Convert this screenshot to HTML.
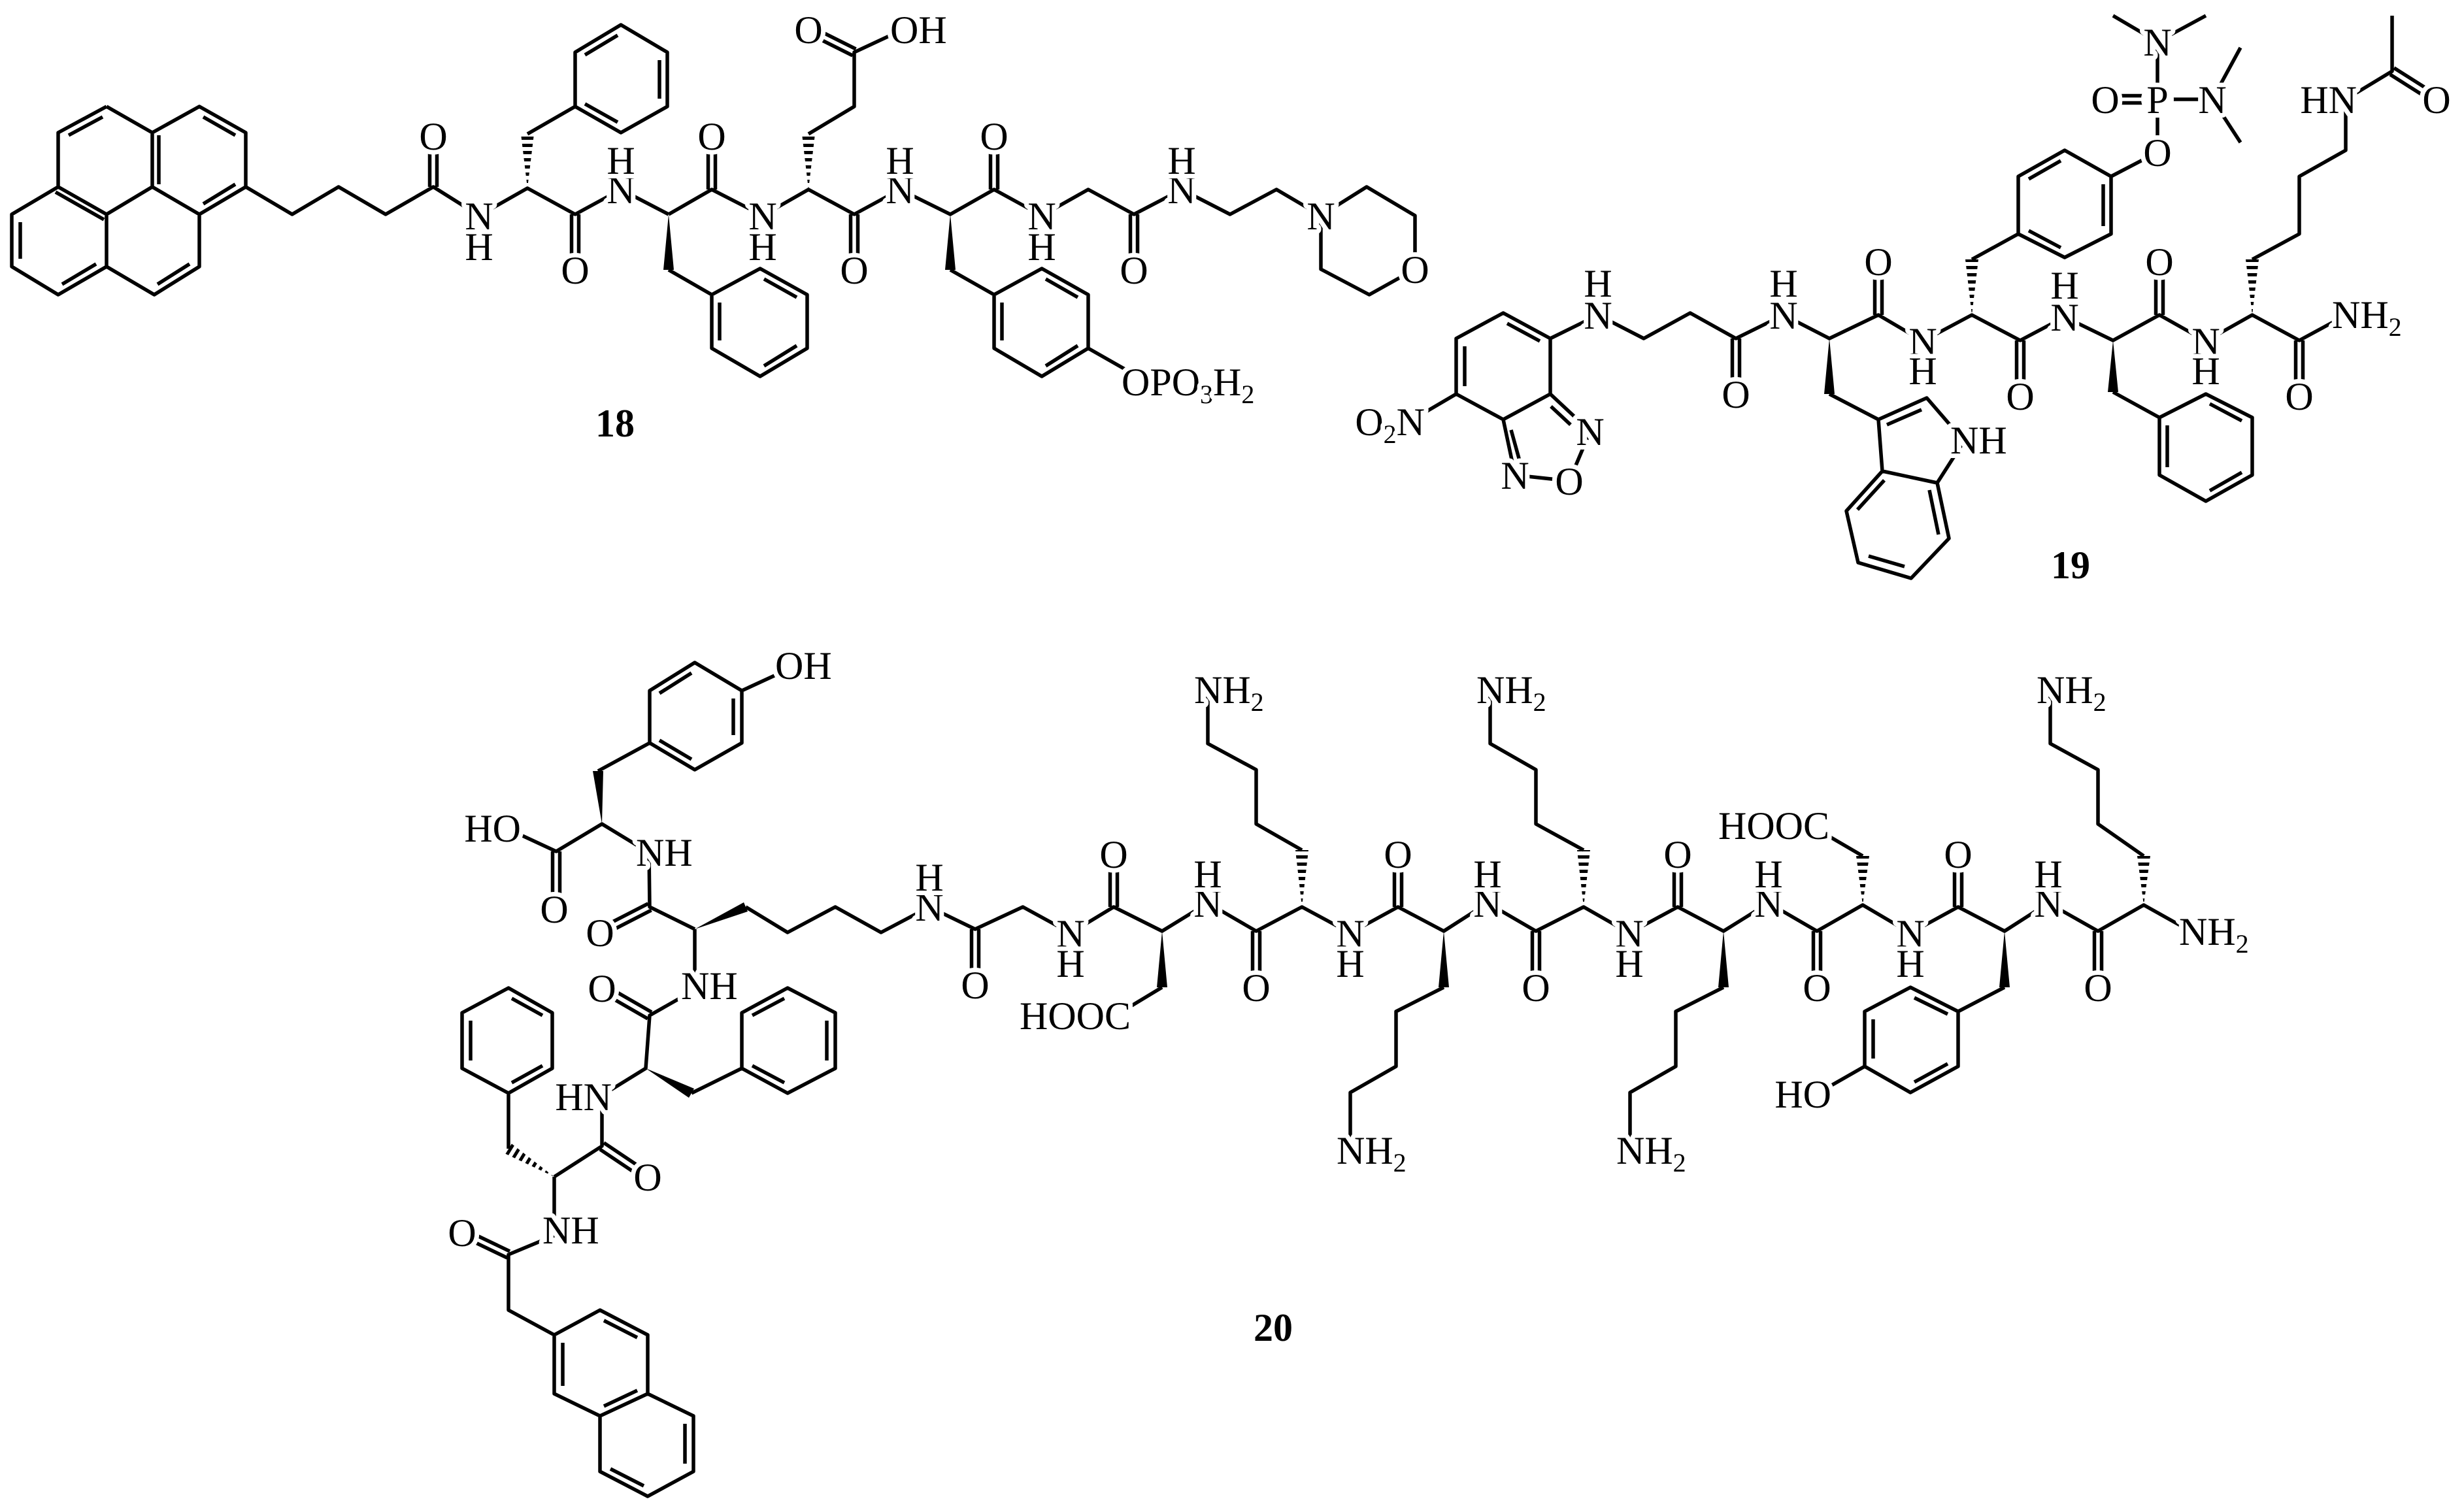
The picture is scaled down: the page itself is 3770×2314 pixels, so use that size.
<!DOCTYPE html>
<html><head><meta charset="utf-8"><style>
html,body{margin:0;padding:0;background:#fff;}
svg{display:block;}
text{font-family:"Liberation Serif",serif;font-size:60px;fill:#000;}
.l{text-anchor:middle;stroke:#fff;stroke-width:14px;paint-order:stroke;stroke-linejoin:round;}
.s{text-anchor:start;stroke:#fff;stroke-width:14px;paint-order:stroke;stroke-linejoin:round;}
.e{text-anchor:end;stroke:#fff;stroke-width:14px;paint-order:stroke;stroke-linejoin:round;}
.b{font-weight:bold;font-size:60px;text-anchor:middle;}
</style></head><body>
<svg width="3770" height="2314" viewBox="0 0 3770 2314" xmlns="http://www.w3.org/2000/svg">
<defs>
<pattern id="hz" patternUnits="userSpaceOnUse" width="40" height="11"><rect width="40" height="5" fill="#000"/></pattern>
<pattern id="hd" patternUnits="userSpaceOnUse" width="11" height="40" patternTransform="rotate(31.6)"><rect width="5" height="40" fill="#000"/></pattern>
</defs>
<rect width="3770" height="2314" fill="#fff"/>
<g fill="none" stroke="#000" stroke-width="5.5" stroke-linejoin="round">
<!-- 18 -->
<path d="M163,163L89,203L89,286L18,328L18,408L89,451L163,408L236,451L305,408L305,328L376,286L376,203L305,163L233,203L163,163 M233,203L233,286L163,328L89,286 M163,328L163,408 M233,286L305,328
M157,179L105,207 M311,179L360,207 M243,207L243,282 M85,294L159,336 M31,340L31,396 M95,435L147,404 M241,435L290,404 M311,312L360,282
M376,286L447,328L518,286L590,328L663,286L733,330L807,288L880,328L950,290L1023,328 M807,205L880,163
M880,163L880,80L950,38L1021,80L1021,163L950,203Z M895,84L945,54 M1009,92L1009,151 M895,159L945,187
M1023,413L1089,451 M1089,451L1089,533L1163,576L1235,533L1235,451L1163,411Z M1169,427L1219,455 M1101,463L1101,521 M1169,560L1219,529
M1023,328L1089,290L1167,330L1237,290L1307,328L1377,290L1454,328L1521,290L1594,330L1665,290L1735,328L1808,290L1882,328L1953,290L2021,330
M1237,205L1307,163L1307,80L1382,45 M1309.5,75L1239.5,40 M1304.5,85L1234.5,50
M1454,413L1521,451 M1521,451L1521,533L1594,576L1665,533L1665,451L1594,411Z M1600,427L1649,455 M1533,463L1533,521 M1600,560L1649,529 M1665,533L1730,570
M2021,330L2091,286L2165,330L2165,412L2095,451L2021,412Z
M657.5,286L657.5,208 M668.5,286L668.5,208 M874.5,328L874.5,413 M885.5,328L885.5,413 M1083.5,290L1083.5,208 M1094.5,290L1094.5,208
M1301.5,328L1301.5,413 M1312.5,328L1312.5,413 M1515.5,290L1515.5,208 M1526.5,290L1526.5,208 M1729.5,328L1729.5,413 M1740.5,328L1740.5,413"/>
<!-- 19 -->
<path d="M2300,479L2372,518L2372,603L2300,642L2228,603L2228,518Z M2306,495L2356,522 M2241,530L2241,591
M2372,603L2433,660L2401,736L2318,727L2300,642 M2373,622L2403,650 M2312,658L2325,705 M2228,603L2165,640
M2372,518L2445,482L2515,518L2586,479L2656,518L2729,482L2799,518L2874,482L2942,522L3017,482L3091,521L3159,485L3233,521L3304,482L3375,522L3446,482L3518,521L3590,482
M2799,603L2874,642
M2874,642L2948,609L3005,675L2964,739L2880,721Z M2880,721L2825,782L2843,861L2924,885L2982,824L2964,739 M2887,650L2940,627 M2842,780L2883,735 M2859,851L2914,867 M2966,818L2952,750
M3017,397L3088,358 M3088,358L3088,270L3159,230L3230,270L3230,358L3159,394Z M3104,274L3153,246 M3218,282L3218,346 M3104,353L3153,379
M3230,270L3301,233L3301,152L3385,152 M3301,152L3301,64L3233,24 M3301,64L3375,24 M3385,152L3428,73 M3385,152L3428,218 M3221,146.5L3301,146.5 M3221,157.5L3301,157.5
M3233,600L3304,639 M3304,639L3304,727L3375,767L3446,727L3446,639L3375,603Z M3381,618L3430,644 M3316,651L3316,715 M3381,751L3430,723
M3446,397L3518,358L3518,270L3589,230L3589,152L3660,109L3660,24 M3657,114L3725,157 M3663,104L3731,147
M2650.5,518L2650.5,603 M2661.5,518L2661.5,603 M2868.5,482L2868.5,400 M2879.5,482L2879.5,400 M3085.5,521L3085.5,606 M3096.5,521L3096.5,606
M3298.5,482L3298.5,400 M3309.5,482L3309.5,400 M3512.5,521L3512.5,606 M3523.5,521L3523.5,606"/>
<!-- 20 -->
<path d="M994,1057L1063,1014L1135,1057L1135,1137L1063,1178L994,1137Z M1009,1061L1058,1030 M1122,1069L1122,1125 M1009,1133L1058,1162 M1135,1057L1200,1027 M915,1180L994,1137
M780,1270L851,1303L921,1261L990,1303 M993,1303L994,1388L1063,1422
M1141,1388L1205,1427L1278,1388L1348,1427L1422,1388L1492,1422L1565,1388L1638,1428L1704,1388L1778,1425L1848,1382L1922,1425L1992,1388L2066,1428L2139,1388L2209,1425L2276,1382L2350,1425L2423,1388L2493,1428L2567,1388L2637,1425L2706,1382L2780,1425L2850,1385L2923,1428L2996,1388L3067,1425L3134,1382L3210,1425L3280,1385L3355,1427
M1778,1511L1730,1540 M1992,1301L1922,1261L1922,1178L1848,1138L1848,1066 M2209,1511L2136,1548L2136,1632L2066,1672L2066,1762 M2423,1301L2350,1261L2350,1178L2280,1138L2280,1066 M2637,1511L2564,1548L2564,1632L2494,1672L2494,1762
M2850,1310L2790,1275 M3067,1511L2996,1548 M2996,1548L2923,1511L2853,1548L2853,1632L2923,1672L2996,1632Z M2929,1527L2980,1552 M2866,1560L2866,1620 M2929,1656L2980,1628 M2853,1632L2790,1668
M3280,1310L3210,1261L3210,1178L3137,1138L3137,1066
M1063,1422L1063,1505 M1045,1525L994,1554L988,1635L920,1677 M921,1690L921,1754L848,1801
M1058,1673L1135,1635 M1135,1635L1135,1550L1205,1512L1278,1550L1278,1635L1205,1673Z M1151,1554L1200,1528 M1265,1562L1265,1623 M1151,1631L1200,1657
M778,1758L778,1673 M778,1673L707,1635L707,1550L778,1512L845,1550L845,1635Z M783,1528L830,1554 M720,1562L720,1623 M783,1657L830,1631
M848,1801L848,1880 M850,1890L778,1920L778,2005L848,2043
M848,2043L918,2005L991,2043L991,2133L918,2167L848,2133Z M991,2133L1061,2167L1061,2252L991,2290L918,2252L918,2167 M924,2021L975,2047 M861,2055L861,2121 M975,2128L924,2152 M1048,2179L1048,2240 M934,2248L985,2274
M996.5,1393L920.5,1432 M991.5,1383L915.5,1422 M991,1559L918,1517 M997,1549L924,1507 M918,1759L988,1806 M924,1749L994,1796 M776,1925L705,1891 M780,1915L709,1881
M845.5,1303L845.5,1392 M856.5,1303L856.5,1392 M1486.5,1422L1486.5,1507 M1497.5,1422L1497.5,1507 M1698.5,1388L1698.5,1307 M1709.5,1388L1709.5,1307
M1916.5,1425L1916.5,1511 M1927.5,1425L1927.5,1511 M2133.5,1388L2133.5,1307 M2144.5,1388L2144.5,1307 M2344.5,1425L2344.5,1511 M2355.5,1425L2355.5,1511
M2561.5,1388L2561.5,1307 M2572.5,1388L2572.5,1307 M2774.5,1425L2774.5,1511 M2785.5,1425L2785.5,1511 M2990.5,1388L2990.5,1307 M3001.5,1388L3001.5,1307
M3204.5,1425L3204.5,1511 M3215.5,1425L3215.5,1511"/>
</g>
<!-- solid wedges -->
<g fill="#000">
<polygon points="1023,328 1015,413 1031,413"/>
<polygon points="1454,328 1446,413 1462,413"/>
<polygon points="2799,518 2791,603 2807,603"/>
<polygon points="3233,521 3225,600 3241,600"/>
<polygon points="921,1261 907,1180 923,1180"/>
<polygon points="1063,1422 1144,1395 1138,1381"/>
<polygon points="1778,1425 1770,1511 1786,1511"/>
<polygon points="2209,1425 2201,1511 2217,1511"/>
<polygon points="2637,1425 2629,1511 2645,1511"/>
<polygon points="3067,1425 3059,1511 3075,1511"/>
<polygon points="988,1635 1054,1680 1062,1666"/>
</g>
<!-- hashed wedges -->
<g fill="url(#hz)">
<polygon points="807,288 797,205 817,205"/>
<polygon points="1237,290 1227,205 1247,205"/>
<polygon points="3017,482 3007,397 3027,397"/>
<polygon points="3446,482 3436,397 3456,397"/>
<polygon points="1992,1388 1982,1301 2002,1301"/>
<polygon points="2423,1388 2413,1301 2433,1301"/>
<polygon points="2850,1385 2840,1310 2860,1310"/>
<polygon points="3280,1385 3270,1310 3290,1310"/>
</g>
<polygon points="848,1801 782.7,1750.3 773.3,1765.7" fill="url(#hd)"/>

<!-- white knockouts behind O / P labels -->
<g fill="#fff">
<circle cx="663" cy="208" r="25"/><circle cx="880" cy="413" r="25"/><circle cx="1089" cy="208" r="25"/><circle cx="1307" cy="413" r="25"/>
<circle cx="1521" cy="208" r="25"/><circle cx="1735" cy="413" r="25"/><circle cx="2165" cy="412" r="25"/><circle cx="1237" cy="45" r="25"/><circle cx="1382" cy="45" r="25"/>
<circle cx="2401" cy="736" r="25"/><circle cx="2656" cy="603" r="25"/><circle cx="2874" cy="400" r="25"/><circle cx="3091" cy="606" r="25"/>
<circle cx="3304" cy="400" r="25"/><circle cx="3518" cy="606" r="25"/><circle cx="3301" cy="233" r="25"/><circle cx="3221" cy="152" r="25"/>
<circle cx="3728" cy="152" r="25"/><circle cx="3301" cy="152" r="25"/>
<circle cx="848" cy="1391" r="25"/><circle cx="918" cy="1427" r="25"/><circle cx="1492" cy="1507" r="25"/><circle cx="1704" cy="1307" r="25"/>
<circle cx="1922" cy="1511" r="25"/><circle cx="2139" cy="1307" r="25"/><circle cx="2350" cy="1511" r="25"/><circle cx="2567" cy="1307" r="25"/>
<circle cx="2780" cy="1511" r="25"/><circle cx="2996" cy="1307" r="25"/><circle cx="3210" cy="1511" r="25"/><circle cx="921" cy="1512" r="25"/>
<circle cx="991" cy="1801" r="25"/><circle cx="707" cy="1886" r="25"/><circle cx="1206" cy="1018" r="25"/><circle cx="776" cy="1267" r="25"/><circle cx="2781" cy="1674" r="25"/>
</g>

<!-- labels 18 -->
<g>
<text class="l" x="663" y="229">O</text>
<text class="l" x="733" y="351">N</text><text class="l" x="733" y="398">H</text>
<text class="l" x="950" y="311">N</text><text class="l" x="950" y="266">H</text>
<text class="l" x="880" y="434">O</text>
<text class="l" x="1089" y="229">O</text>
<text class="l" x="1167" y="351">N</text><text class="l" x="1167" y="398">H</text>
<text class="l" x="1307" y="434">O</text>
<text class="l" x="1377" y="311">N</text><text class="l" x="1377" y="266">H</text>
<text class="l" x="1521" y="229">O</text>
<text class="l" x="1594" y="351">N</text><text class="l" x="1594" y="398">H</text>
<text class="l" x="1735" y="434">O</text>
<text class="l" x="1808" y="311">N</text><text class="l" x="1808" y="266">H</text>
<text class="l" x="2021" y="351">N</text>
<text class="l" x="2165" y="433">O</text>
<text class="l" x="1237" y="66">O</text>
<text class="s" x="1362" y="66">OH</text>
<text class="s" x="1716" y="605">OPO<tspan font-size="40" dy="12">3</tspan><tspan dy="-12">H</tspan><tspan font-size="40" dy="12">2</tspan></text>
<text class="b" x="941" y="668">18</text>
</g>
<!-- labels 19 -->
<g>
<text class="e" x="2180" y="666">O<tspan font-size="40" dy="12">2</tspan><tspan dy="-12">N</tspan></text>
<text class="l" x="2433" y="681">N</text>
<text class="l" x="2401" y="757">O</text>
<text class="l" x="2318" y="748">N</text>
<text class="l" x="2445" y="503">N</text><text class="l" x="2445" y="454">H</text>
<text class="l" x="2656" y="624">O</text>
<text class="l" x="2729" y="503">N</text><text class="l" x="2729" y="454">H</text>
<text class="l" x="2874" y="421">O</text>
<text class="l" x="2942" y="543">N</text><text class="l" x="2942" y="588">H</text>
<text class="l" x="3091" y="627">O</text>
<text class="l" x="3159" y="506">N</text><text class="l" x="3159" y="457">H</text>
<text class="l" x="3304" y="421">O</text>
<text class="l" x="3375" y="543">N</text><text class="l" x="3375" y="588">H</text>
<text class="l" x="3518" y="627">O</text>
<text class="s" x="3568" y="502">NH<tspan font-size="40" dy="12">2</tspan></text>
<text class="s" x="2984" y="694">NH</text>
<text class="l" x="3301" y="254">O</text>
<text class="l" x="3301" y="173">P</text>
<text class="l" x="3221" y="173">O</text>
<text class="l" x="3301" y="85">N</text>
<text class="l" x="3385" y="173">N</text>
<text class="e" x="3606" y="173">HN</text>
<text class="l" x="3728" y="173">O</text>
<text class="b" x="3168" y="885">19</text>
</g>
<!-- labels 20 -->
<g>
<text class="s" x="1186" y="1039">OH</text>
<text class="e" x="797" y="1288">HO</text>
<text class="l" x="848" y="1412">O</text>
<text class="s" x="973" y="1325">NH</text>
<text class="l" x="918" y="1448">O</text>
<text class="l" x="1422" y="1409">N</text><text class="l" x="1422" y="1363">H</text>
<text class="l" x="1492" y="1528">O</text>
<text class="l" x="1638" y="1449">N</text><text class="l" x="1638" y="1495">H</text>
<text class="l" x="1704" y="1328">O</text>
<text class="e" x="1730" y="1575">HOOC</text>
<text class="l" x="1848" y="1403">N</text><text class="l" x="1848" y="1358">H</text>
<text class="l" x="1922" y="1532">O</text>
<text class="s" x="1827" y="1076">NH<tspan font-size="40" dy="12">2</tspan></text>
<text class="l" x="2066" y="1449">N</text><text class="l" x="2066" y="1495">H</text>
<text class="l" x="2139" y="1328">O</text>
<text class="s" x="2045" y="1781">NH<tspan font-size="40" dy="12">2</tspan></text>
<text class="l" x="2276" y="1403">N</text><text class="l" x="2276" y="1358">H</text>
<text class="l" x="2350" y="1532">O</text>
<text class="s" x="2259" y="1076">NH<tspan font-size="40" dy="12">2</tspan></text>
<text class="l" x="2493" y="1449">N</text><text class="l" x="2493" y="1495">H</text>
<text class="l" x="2567" y="1328">O</text>
<text class="s" x="2473" y="1781">NH<tspan font-size="40" dy="12">2</tspan></text>
<text class="l" x="2706" y="1403">N</text><text class="l" x="2706" y="1358">H</text>
<text class="l" x="2780" y="1532">O</text>
<text class="e" x="2799" y="1284">HOOC</text>
<text class="l" x="2923" y="1449">N</text><text class="l" x="2923" y="1495">H</text>
<text class="l" x="2996" y="1328">O</text>
<text class="e" x="2802" y="1695">HO</text>
<text class="l" x="3134" y="1403">N</text><text class="l" x="3134" y="1358">H</text>
<text class="l" x="3210" y="1532">O</text>
<text class="s" x="3116" y="1076">NH<tspan font-size="40" dy="12">2</tspan></text>
<text class="s" x="3334" y="1446">NH<tspan font-size="40" dy="12">2</tspan></text>
<text class="s" x="1042" y="1529">NH</text>
<text class="l" x="921" y="1533">O</text>
<text class="e" x="936" y="1699">HN</text>
<text class="l" x="991" y="1822">O</text>
<text class="s" x="830" y="1903">NH</text>
<text class="l" x="707" y="1907">O</text>
<text class="b" x="1948" y="2052">20</text>
</g>
</svg>
</body></html>
